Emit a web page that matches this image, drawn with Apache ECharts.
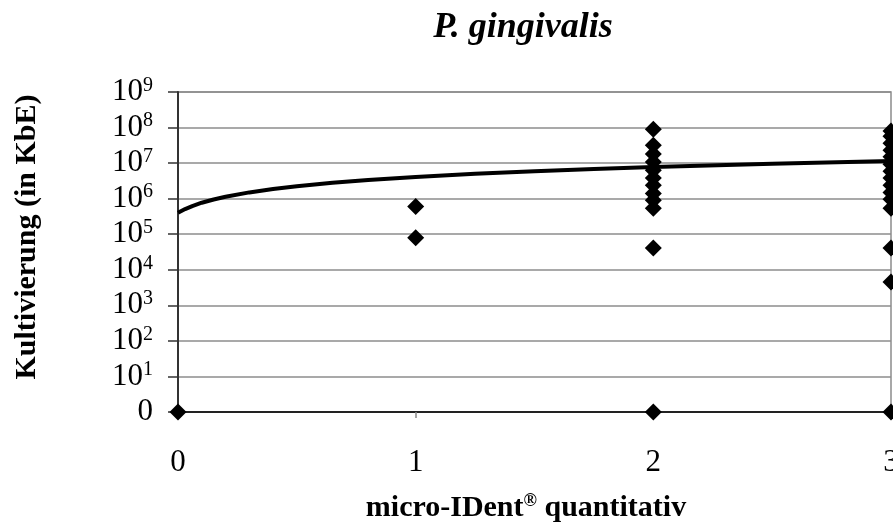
<!DOCTYPE html>
<html>
<head>
<meta charset="utf-8">
<script src="https://cdn.jsdelivr.net/npm/echarts@6/dist/echarts.min.js"></script>
<style>
html,body{margin:0;padding:0;background:#fff;overflow:hidden;}
#chart{width:893px;height:525px;}
</style>
</head>
<body>
<div id="chart"></div>
<script>
// ---- data ----
var titleText = 'P. gingivalis';
var xAxisTitle = 'micro-IDent';
var xAxisTitleSup = '®';
var xAxisTitleRest = ' quantitativ';
var yAxisTitle = 'Kultivierung (in KbE)';

// micro-IDent quantitative score (x) and culture count in KbE (y); 0 KbE plotted at the axis floor
var pointsX = [0, 1, 1, 2, 2, 2, 2, 2, 2, 2, 2, 2, 2, 2, 2,
               3, 3, 3, 3, 3, 3, 3, 3, 3, 3, 3, 3, 3, 3, 3];
var pointsY = [0, 6e5, 8e4, 9e7, 3.2e7, 1.8e7, 1.07e7, 6.3e6, 3.8e6, 2.4e6, 1.4e6, 9e5, 5.4e5, 4.1e4, 0,
               8e7, 5.7e7, 3.6e7, 2.3e7, 1.5e7, 9.3e6, 5.9e6, 3.8e6, 2.4e6, 1.5e6, 9.7e5, 5.4e5, 4.1e4, 4.5e3, 0];

// trend line
var trendX = [0, 0.03, 0.06, 0.1, 0.15, 0.2, 0.3, 0.4, 0.5, 0.65, 0.8, 1, 1.25, 1.5, 1.75, 2, 2.5, 3];
var trendY = [4.0e5, 5.1e5, 6.2e5, 7.7e5, 9.5e5, 1.13e6, 1.5e6, 1.87e6, 2.24e6, 2.79e6, 3.34e6, 4.07e6,
              4.99e6, 5.9e6, 6.82e6, 7.74e6, 9.58e6, 1.14e7];

var xTicks = [0, 1, 2, 3];
var yDecades = [0, 1, 2, 3, 4, 5, 6, 7, 8, 9];   // 10^0 shown as "0"

// ---- chart ----
var FONT = '"Liberation Serif", "Times New Roman", serif';
var floorVal = 1; // log axis floor where 0 KbE is shown
var scatterData = pointsX.map(function (x, i) {
  return [x, pointsY[i] > 0 ? pointsY[i] : floorVal];
});
var trendData = trendX.map(function (x, i) { return [x, trendY[i]]; });

var chart = echarts.init(document.getElementById('chart'), null, {renderer: 'canvas', width: 893, height: 525});
var option = {
  animation: false,
  backgroundColor: '#fff',
  title: {
    text: titleText,
    left: 518,
    textAlign: 'center',
    top: 5,
    textStyle: {fontFamily: FONT, fontSize: 36, fontWeight: 'bold', fontStyle: 'italic', color: '#000'}
  },
  grid: {
    left: 178, right: 2, top: 92, bottom: 113,
    containLabel: false,
    outerBoundsMode: 'none',
    show: true, borderColor: '#8c8c8c', borderWidth: 1.5, backgroundColor: 'transparent'
  },
  xAxis: {
    type: 'value',
    min: xTicks[0], max: xTicks[xTicks.length - 1], interval: 1,
    axisLine: {lineStyle: {color: '#222', width: 2}},
    axisTick: {show: true, length: 6, lineStyle: {color: '#888', width: 1.5}},
    splitLine: {show: false},
    axisLabel: {margin: 35, fontFamily: FONT, fontSize: 31, color: '#000'}
  },
  yAxis: {
    type: 'log', logBase: 10,
    min: Math.pow(10, yDecades[0]), max: Math.pow(10, yDecades[yDecades.length - 1]),
    axisLine: {show: true, lineStyle: {color: '#333', width: 2}},
    axisTick: {show: true, length: 10, lineStyle: {color: '#333', width: 1.5}},
    splitLine: {show: true, lineStyle: {color: '#8c8c8c', width: 1.5}},
    axisLabel: {
      margin: 25,
      fontFamily: FONT, fontSize: 31, color: '#000',
      formatter: function (v) {
        var n = Math.round(Math.log10(v));
        if (n === 0) return '{b|0}';
        return '{b|10}{s|' + n + '}';
      },
      rich: {
        b: {fontFamily: FONT, fontSize: 31, color: '#000'},
        s: {fontFamily: FONT, fontSize: 20, color: '#000', padding: [0, 0, 13, 0]}
      }
    }
  },
  graphic: [
    {
      type: 'text', x: 526, y: 508,
      style: {
        text: '{a|' + xAxisTitle + '}{s|' + xAxisTitleSup + '}{a|' + xAxisTitleRest + '}',
        textAlign: 'center', textVerticalAlign: 'middle',
        rich: {
          a: {fontFamily: FONT, fontSize: 30, fontWeight: 'bold', fill: '#000'},
          s: {fontFamily: FONT, fontSize: 18, fontWeight: 'bold', fill: '#000', padding: [0, 0, 13, 0]}
        }
      }
    },
    {
      type: 'text', x: 27, y: 237, rotation: Math.PI / 2,
      style: {
        text: yAxisTitle,
        textAlign: 'center', textVerticalAlign: 'middle',
        fontFamily: FONT, fontSize: 30, fontWeight: 'bold', fill: '#000'
      }
    }
  ],
  series: [
    {
      type: 'line',
      data: trendData,
      showSymbol: false,
      symbol: 'none',
      smooth: false,
      lineStyle: {color: '#000', width: 4},
      z: 2
    },
    {
      type: 'scatter',
      data: scatterData,
      symbol: 'diamond',
      symbolSize: 17,
      clip: false,
      itemStyle: {color: '#000', opacity: 1},
      z: 3
    }
  ]
};
chart.setOption(option);
</script>
</body>
</html>
